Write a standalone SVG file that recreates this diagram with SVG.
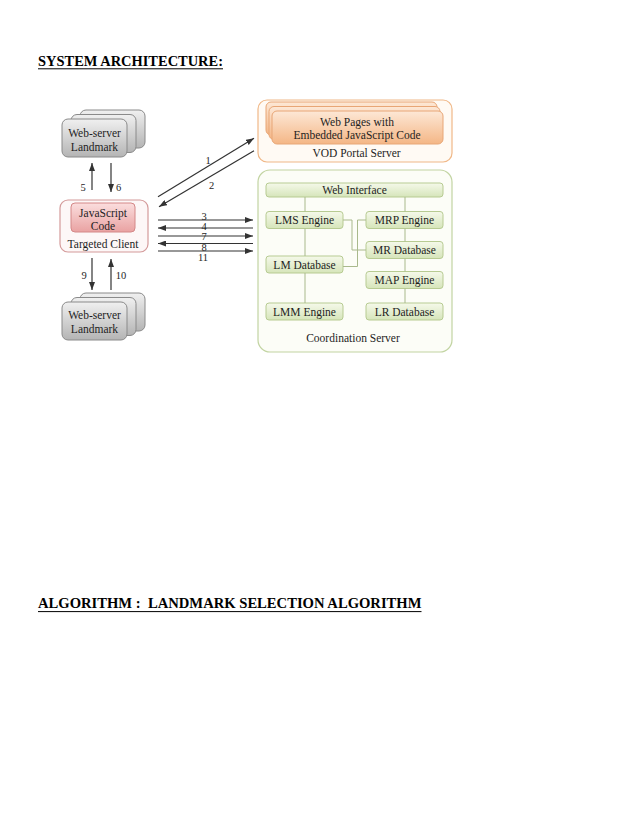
<svg xmlns="http://www.w3.org/2000/svg" width="638" height="826" viewBox="0 0 638 826">
<defs>
<linearGradient id="gGray" x1="0" y1="0" x2="0" y2="1"><stop offset="0" stop-color="#f0f0f0"/><stop offset="1" stop-color="#b4b4b4"/></linearGradient>
<linearGradient id="gPink" x1="0" y1="0" x2="0" y2="1"><stop offset="0" stop-color="#fbdede"/><stop offset="1" stop-color="#e9a2a2"/></linearGradient>
<linearGradient id="gOrange" x1="0" y1="0" x2="0" y2="1"><stop offset="0" stop-color="#fde8d6"/><stop offset="1" stop-color="#f4b686"/></linearGradient>
<linearGradient id="gGreen" x1="0" y1="0" x2="0" y2="1"><stop offset="0" stop-color="#f5f9ea"/><stop offset="1" stop-color="#d6e5ba"/></linearGradient>
<marker id="ah" markerUnits="userSpaceOnUse" markerWidth="8" markerHeight="6" refX="8" refY="3" orient="auto"><path d="M0,0 L8,3 L0,6 z" fill="#333"/></marker>
<style>
text{font-family:"Liberation Serif","Times New Roman",serif;fill:#1e1e1e;}
.t{font-size:11.5px;text-anchor:middle;}
.n{font-size:10.5px;text-anchor:middle;}
.h{font-size:14.5px;font-weight:bold;fill:#000;}
.ws{fill:url(#gGray);stroke:#8a8a8a;stroke-width:1;}
.pg{fill:url(#gOrange);stroke:#e8a676;stroke-width:1;}
.gb{fill:url(#gGreen);stroke:#b7cb92;stroke-width:1;}
.ar{stroke:#333;stroke-width:1.2;fill:none;marker-end:url(#ah);}
.ln{stroke:#a9b98c;stroke-width:1;fill:none;}
.ul{stroke:#000;stroke-width:1;}
</style>
</defs>
<rect width="638" height="826" fill="#fff"/>

<g id="title1">
<text class="h" x="38" y="65.7" textLength="185" lengthAdjust="spacingAndGlyphs">SYSTEM ARCHITECTURE:</text>
<line class="ul" x1="38" y1="68.8" x2="223" y2="68.8"/>
</g>

<g id="webserver-top">
<rect class="ws" x="80" y="110" width="65" height="38" rx="6"/>
<rect class="ws" x="71" y="114.5" width="65" height="38" rx="6"/>
<rect class="ws" x="62" y="119" width="65" height="38" rx="6"/>
<text class="t" x="94.5" y="137">Web-server</text>
<text class="t" x="94.5" y="151">Landmark</text>
</g>

<g id="client">
<rect x="60" y="200" width="88" height="52" rx="8" fill="#fdf7f7" stroke="#d49a9a" stroke-width="1.2"/>
<rect x="71" y="203" width="64" height="29" rx="4" fill="url(#gPink)" stroke="#d48888" stroke-width="1"/>
<text class="t" x="103" y="216.5">JavaScript</text>
<text class="t" x="103" y="230">Code</text>
<text class="t" x="103" y="247.5">Targeted Client</text>
</g>

<g id="webserver-bottom">
<rect class="ws" x="80" y="293" width="65" height="38" rx="6"/>
<rect class="ws" x="71" y="297.5" width="65" height="38" rx="6"/>
<rect class="ws" x="62" y="302" width="65" height="38" rx="6"/>
<text class="t" x="94.5" y="319">Web-server</text>
<text class="t" x="94.5" y="333">Landmark</text>
</g>

<g id="vod-portal">
<rect x="258" y="100" width="194" height="62" rx="9" fill="#fffaf4" stroke="#f0b888" stroke-width="1.2"/>
<rect class="pg" x="266" y="102" width="171" height="33" rx="5"/>
<rect class="pg" x="269" y="106.5" width="171" height="33" rx="5"/>
<rect class="pg" x="272" y="111" width="171" height="33" rx="5"/>
<text class="t" x="357" y="125.5">Web Pages with</text>
<text class="t" x="357" y="139">Embedded JavaScript Code</text>
<text class="t" x="356.5" y="157">VOD Portal Server</text>
</g>

<g id="coordination-server">
<rect x="258" y="170" width="194" height="182" rx="12" fill="#fcfdf7" stroke="#c2d4a2" stroke-width="1.2"/>
<text class="t" x="353" y="342">Coordination Server</text>
</g>
<g id="web-interface"><rect class="gb" x="266" y="183" width="177" height="14" rx="3"/><text class="t" x="354.5" y="194.3">Web Interface</text></g>
<g id="lms-engine"><rect class="gb" x="266" y="211.5" width="77" height="17" rx="3"/><text class="t" x="304.5" y="224">LMS Engine</text></g>
<g id="mrp-engine"><rect class="gb" x="366" y="211.5" width="77" height="17" rx="3"/><text class="t" x="404.5" y="224">MRP Engine</text></g>
<g id="mr-database"><rect class="gb" x="366" y="241.5" width="77" height="17" rx="3"/><text class="t" x="404.5" y="254">MR Database</text></g>
<g id="lm-database"><rect class="gb" x="266" y="256" width="77" height="17" rx="3"/><text class="t" x="304.5" y="268.5">LM Database</text></g>
<g id="map-engine"><rect class="gb" x="366" y="271.5" width="77" height="17" rx="3"/><text class="t" x="404.5" y="284">MAP Engine</text></g>
<g id="lmm-engine"><rect class="gb" x="266" y="303" width="77" height="17" rx="3"/><text class="t" x="304.5" y="315.5">LMM Engine</text></g>
<g id="lr-database"><rect class="gb" x="366" y="303" width="77" height="17" rx="3"/><text class="t" x="404.5" y="315.5">LR Database</text></g>

<g id="connectors">
<line class="ln" x1="305" y1="197" x2="305" y2="211.5"/>
<line class="ln" x1="305" y1="228.5" x2="305" y2="256"/>
<line class="ln" x1="305" y1="273" x2="305" y2="303"/>
<line class="ln" x1="405" y1="197" x2="405" y2="211.5"/>
<line class="ln" x1="405" y1="228.5" x2="405" y2="241.5"/>
<line class="ln" x1="405" y1="258.5" x2="405" y2="271.5"/>
<line class="ln" x1="405" y1="288.5" x2="405" y2="303"/>
<polyline class="ln" points="343,220 352,220 352,250 366,250"/>
<polyline class="ln" points="343,266.5 357.5,266.5 357.5,220 366,220"/>

<line class="ar" x1="92" y1="190" x2="92" y2="163"/>
<line class="ar" x1="111" y1="163" x2="111" y2="192"/>
<text class="n" x="83" y="190.5">5</text>
<text class="n" x="118.5" y="190.5">6</text>

<line class="ar" x1="92" y1="258" x2="92" y2="290"/>
<line class="ar" x1="111" y1="290" x2="111" y2="259"/>
<text class="n" x="84" y="279">9</text>
<text class="n" x="121" y="279">10</text>

<line class="ar" x1="158" y1="196.7" x2="254" y2="138.3"/>
<line class="ar" x1="254" y1="150.7" x2="159" y2="206.7"/>
<text class="n" x="208" y="164">1</text>
<text class="n" x="211.5" y="189">2</text>

<line class="ar" x1="158" y1="220" x2="253" y2="220"/>
<line class="ar" x1="253" y1="228" x2="158" y2="228"/>
<line class="ar" x1="158" y1="236" x2="253" y2="236"/>
<line class="ar" x1="253" y1="243.5" x2="158" y2="243.5"/>
<line class="ar" x1="158" y1="251" x2="253" y2="251"/>
<text class="n" x="204" y="219.5">3</text>
<text class="n" x="204" y="230">4</text>
<text class="n" x="204" y="240">7</text>
<text class="n" x="204" y="250.5">8</text>
<text class="n" x="203" y="261">11</text>
</g>

<g id="title2">
<text class="h" x="38" y="608.3" textLength="383.5" lengthAdjust="spacingAndGlyphs" xml:space="preserve">ALGORITHM :  LANDMARK SELECTION ALGORITHM</text>
<line class="ul" x1="38" y1="611.6" x2="421.5" y2="611.6"/>
</g>
</svg>
